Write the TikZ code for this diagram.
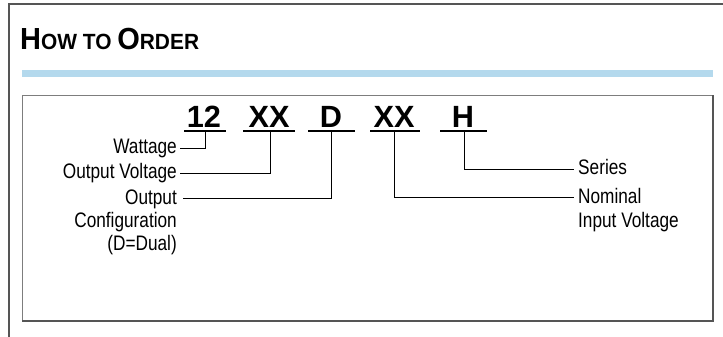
\documentclass[tikz,border=0pt]{standalone}
\usepackage{fontspec}
\setmainfont[FakeStretch=0.82]{Liberation Sans}
\newfontfamily\codefont{Liberation Sans}
\newfontfamily\titlefont[FakeStretch=0.95]{Liberation Sans}
\definecolor{barblue}{RGB}{180,217,237}
\definecolor{framegray}{RGB}{85,85,85}
\definecolor{boxgray}{RGB}{125,125,125}
\begin{document}
\begin{tikzpicture}[x=1pt,y=-1pt,
  lbl/.style={font=\fontsize{21}{23.3}\selectfont, inner sep=0pt, text height=15pt, text depth=4.2pt},
  mlbl/.style={font=\fontsize{21}{23.3}\selectfont, inner sep=0pt},
  code/.style={font=\codefont\fontsize{30.7}{32}\selectfont\bfseries, inner sep=0pt, anchor=base},
  uline/.style={line width=2pt, black},
  conn/.style={line width=0.9pt, black},
  title/.style={font=\titlefont\fontsize{30.5}{32}\selectfont\bfseries, inner sep=0pt, anchor=base west}]
\useasboundingbox (0,0) rectangle (723,337);
% outer frame
\draw[framegray, line width=1.5pt] (9,337) -- (9,4) -- (723,4);
% title
\node[title] (ttl) at (20,50) {H{\fontsize{22}{24}\selectfont OW TO }O{\fontsize{22}{24}\selectfont RDER}};
% blue bar
\fill[barblue] (22,70) rectangle (713,77);
% inner box
\draw[boxgray, line width=1pt] (22,321) -- (22,95) -- (713,95);
\draw[framegray, line width=1.8pt] (22,321) -- (713,321) -- (713,95);
% code
\node[code] (n1) at (204,127) {12};
\node[code] (n2) at (269,127) {XX};
\node[code] (n3) at (331,127) {D};
\node[code] (n4) at (394,127) {XX};
\node[code] (n5) at (463,127) {H};
\draw[uline] (184,130.5) -- (226,130.5);
\draw[uline] (243,130.5) -- (295,130.5);
\draw[uline] (308,130.5) -- (355,130.5);
\draw[uline] (370,130.5) -- (420,130.5);
\draw[uline] (440,130.5) -- (487,130.5);
\coordinate (c1) at (205,131.5);
\coordinate (c2) at (270,131.5);
\coordinate (c3) at (331,131.5);
\coordinate (c4) at (394,131.5);
\coordinate (c5) at (464,131.5);
% labels
\node[lbl, anchor=east] (wat) at (177,148) {Wattage};
\node[lbl, anchor=east] (ov) at (177,173) {Output Voltage};
\node[mlbl, anchor=north east, align=right] (oc) at (177,189.5) {Output\\Configuration\\(D=Dual)};
\node[lbl, anchor=west] (ser) at (578,169) {Series};
\node[mlbl, anchor=north west, align=left] (niv) at (578,188.5) {Nominal\\Input Voltage};
\coordinate (ocl) at (183,198);
\coordinate (nivl) at (574,197);
% connectors
\draw[conn] (c1) |- ([xshift=3pt]wat.east);
\draw[conn] (c2) |- ([xshift=3pt]ov.east);
\draw[conn] (c3) |- (ocl);
\draw[conn] (c4) |- (nivl);
\draw[conn] (c5) |- ([xshift=-4pt]ser.west);
\end{tikzpicture}
\end{document}
